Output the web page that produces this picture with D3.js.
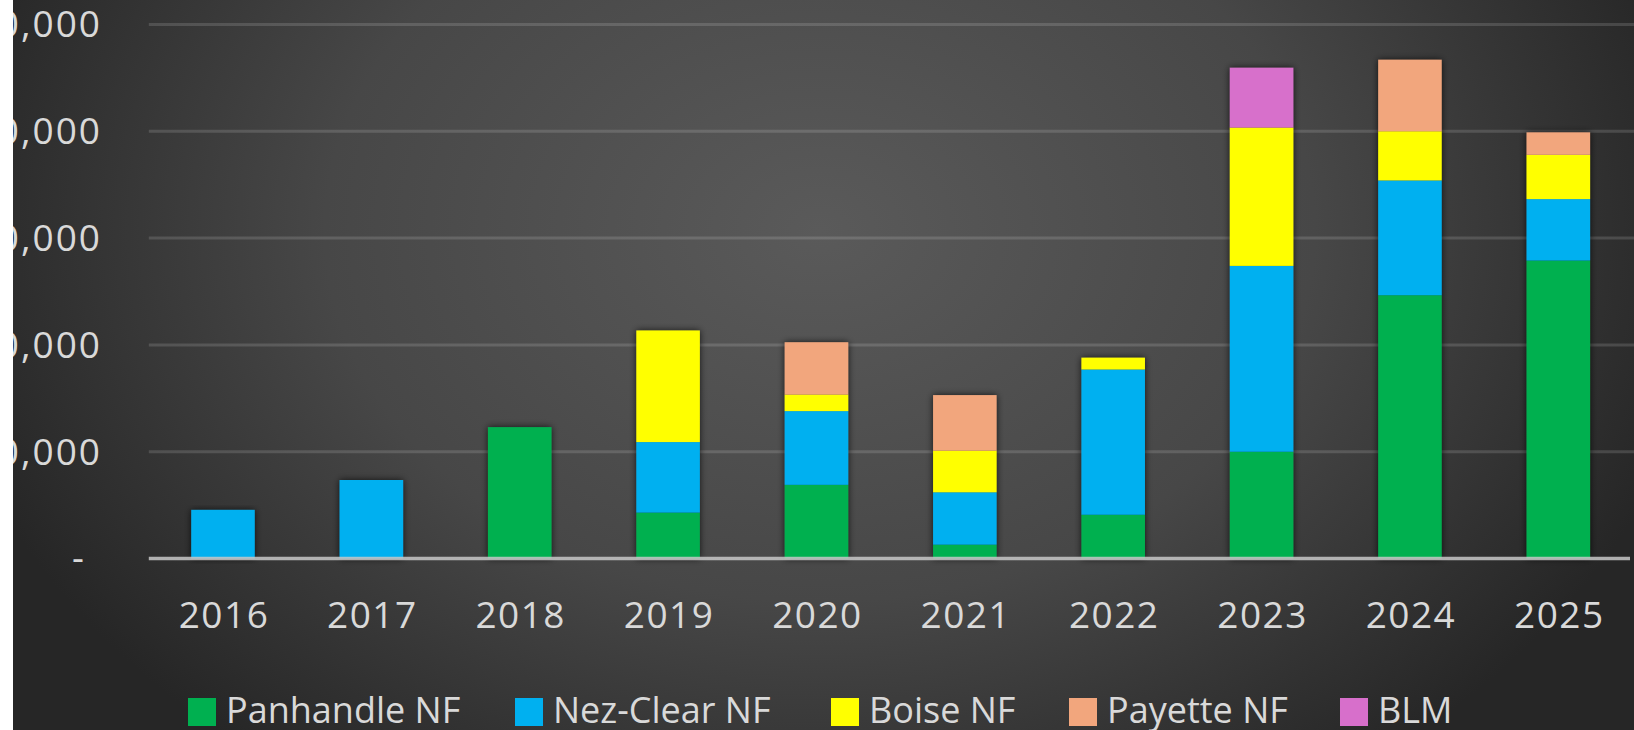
<!DOCTYPE html>
<html>
<head>
<meta charset="utf-8">
<script src="https://cdn.jsdelivr.net/npm/d3@7"></script>
<style>
  html, body { margin: 0; padding: 0; background: #fff; }
  svg { display: block; }
</style>
</head>
<body>
<svg width="1634" height="730"></svg>
<script>
const years = ['2016', '2017', '2018', '2019', '2020', '2021', '2022', '2023', '2024', '2025'];
const panhandleNF = [0, 0, 12300, 4300, 6900, 1300, 4100, 10000, 24650, 27900];
const nezClearNF  = [4550, 7350, 0, 6600, 6900, 4900, 13600, 17400, 10750, 5750];
const boiseNF     = [0, 0, 0, 10450, 1550, 3900, 1100, 12950, 4600, 4150];
const payetteNF   = [0, 0, 0, 0, 4900, 5200, 0, 0, 6700, 2100];
const blm         = [0, 0, 0, 0, 0, 0, 0, 5600, 0, 0];
const seriesNames = ['Panhandle NF', 'Nez-Clear NF', 'Boise NF', 'Payette NF', 'BLM'];
const yTicks = [0, 10000, 20000, 30000, 40000, 50000];

const colors = ['#00b050', '#00b0f0', '#ffff00', '#f2a67d', '#d76fcb'];
const legendX = [188, 515, 831, 1069, 1340];
const textColor = '#d9d9d9';
const font = "'Open Sans', sans-serif";

const svg = d3.select('svg'),
      width = +svg.attr('width'),
      height = +svg.attr('height');

const rows = years.map((yr, i) => ({
  year: yr,
  'Panhandle NF': panhandleNF[i],
  'Nez-Clear NF': nezClearNF[i],
  'Boise NF': boiseNF[i],
  'Payette NF': payetteNF[i],
  'BLM': blm[i]
}));

const defs = svg.append('defs');
const grad = defs.append('radialGradient')
    .attr('id', 'bg')
    .attr('gradientUnits', 'userSpaceOnUse')
    .attr('cx', 820).attr('cy', 230).attr('r', 900)
    .attr('gradientTransform', 'translate(820,230) scale(1,0.75) translate(-820,-230)');
grad.append('stop').attr('offset', '0%').attr('stop-color', '#5a5a5a');
grad.append('stop').attr('offset', '55%').attr('stop-color', '#474747');
grad.append('stop').attr('offset', '100%').attr('stop-color', '#262626');

defs.append('filter')
    .attr('id', 'shadow')
    .attr('x', '-30%').attr('y', '-10%').attr('width', '160%').attr('height', '120%')
  .append('feDropShadow')
    .attr('dx', 0).attr('dy', 0)
    .attr('stdDeviation', 3.5)
    .attr('flood-color', '#000')
    .attr('flood-opacity', 0.75);

svg.append('rect')
    .attr('x', 0).attr('y', 0)
    .attr('width', width).attr('height', height)
    .attr('fill', 'url(#bg)');

const x = d3.scaleBand()
    .domain(years)
    .range([148.8, 1632.5])
    .paddingInner(0.572)
    .paddingOuter(0.286);

const y = d3.scaleLinear()
    .domain([0, 50000])
    .range([558.5, 24.5]);

// gridlines
svg.append('g')
  .selectAll('line')
  .data(yTicks.filter(d => d > 0))
  .enter().append('line')
    .attr('x1', 148.8).attr('x2', width)
    .attr('y1', d => y(d)).attr('y2', d => y(d))
    .attr('stroke', 'rgba(255,255,255,0.14)')
    .attr('stroke-width', 3);

// y labels, accounting style: "-" for zero
const fmt = d3.format(',');
svg.append('g')
  .selectAll('text')
  .data(yTicks)
  .enter().append('text')
    .attr('x', d => d === 0 ? 79 : 102)
    .attr('y', d => y(d))
    .attr('dy', '0.35em')
    .attr('text-anchor', d => d === 0 ? 'middle' : 'end')
    .attr('fill', textColor)
    .style('font', `37px ${font}`)
    .style('letter-spacing', '2px')
    .text(d => d === 0 ? '-' : fmt(d));

const stacked = d3.stack().keys(seriesNames)(rows);

const groups = svg.append('g')
  .selectAll('g')
  .data(years)
  .enter().append('g')
    .attr('filter', 'url(#shadow)');

groups.selectAll('rect')
  .data((yr, i) => stacked.map((s, k) => ({ k, year: yr, y0: s[i][0], y1: s[i][1] }))
                          .filter(d => d.y1 > d.y0))
  .enter().append('rect')
    .attr('x', d => x(d.year))
    .attr('width', x.bandwidth())
    .attr('y', d => y(d.y1))
    .attr('height', d => y(d.y0) - y(d.y1))
    .attr('fill', d => colors[d.k]);

// baseline
svg.append('line')
    .attr('x1', 148.8).attr('x2', 1630)
    .attr('y1', y(0)).attr('y2', y(0))
    .attr('stroke', '#c8c8c8')
    .attr('stroke-opacity', 0.85)
    .attr('stroke-width', 3.5);

// x labels
svg.append('g')
  .selectAll('text')
  .data(years)
  .enter().append('text')
    .attr('x', d => x(d) + x.bandwidth() / 2 + 1)
    .attr('y', 628)
    .attr('text-anchor', 'middle')
    .attr('fill', textColor)
    .style('font', `37px ${font}`)
    .style('letter-spacing', '1.5px')
    .text(d => d);

// legend
const legend = svg.append('g')
  .selectAll('g')
  .data(seriesNames)
  .enter().append('g')
    .attr('transform', (d, i) => `translate(${legendX[i]},698)`);
legend.append('rect')
    .attr('width', 28).attr('height', 28)
    .attr('fill', (d, i) => colors[i]);
legend.append('text')
    .attr('x', 38).attr('y', 25)
    .attr('fill', textColor)
    .style('font', `36px ${font}`)
    .text(d => d);

// white strip on the left edge, covers the start of the y labels
svg.append('rect')
    .attr('x', 0).attr('y', 0)
    .attr('width', 13).attr('height', height)
    .attr('fill', '#fff');
</script>
</body>
</html>
